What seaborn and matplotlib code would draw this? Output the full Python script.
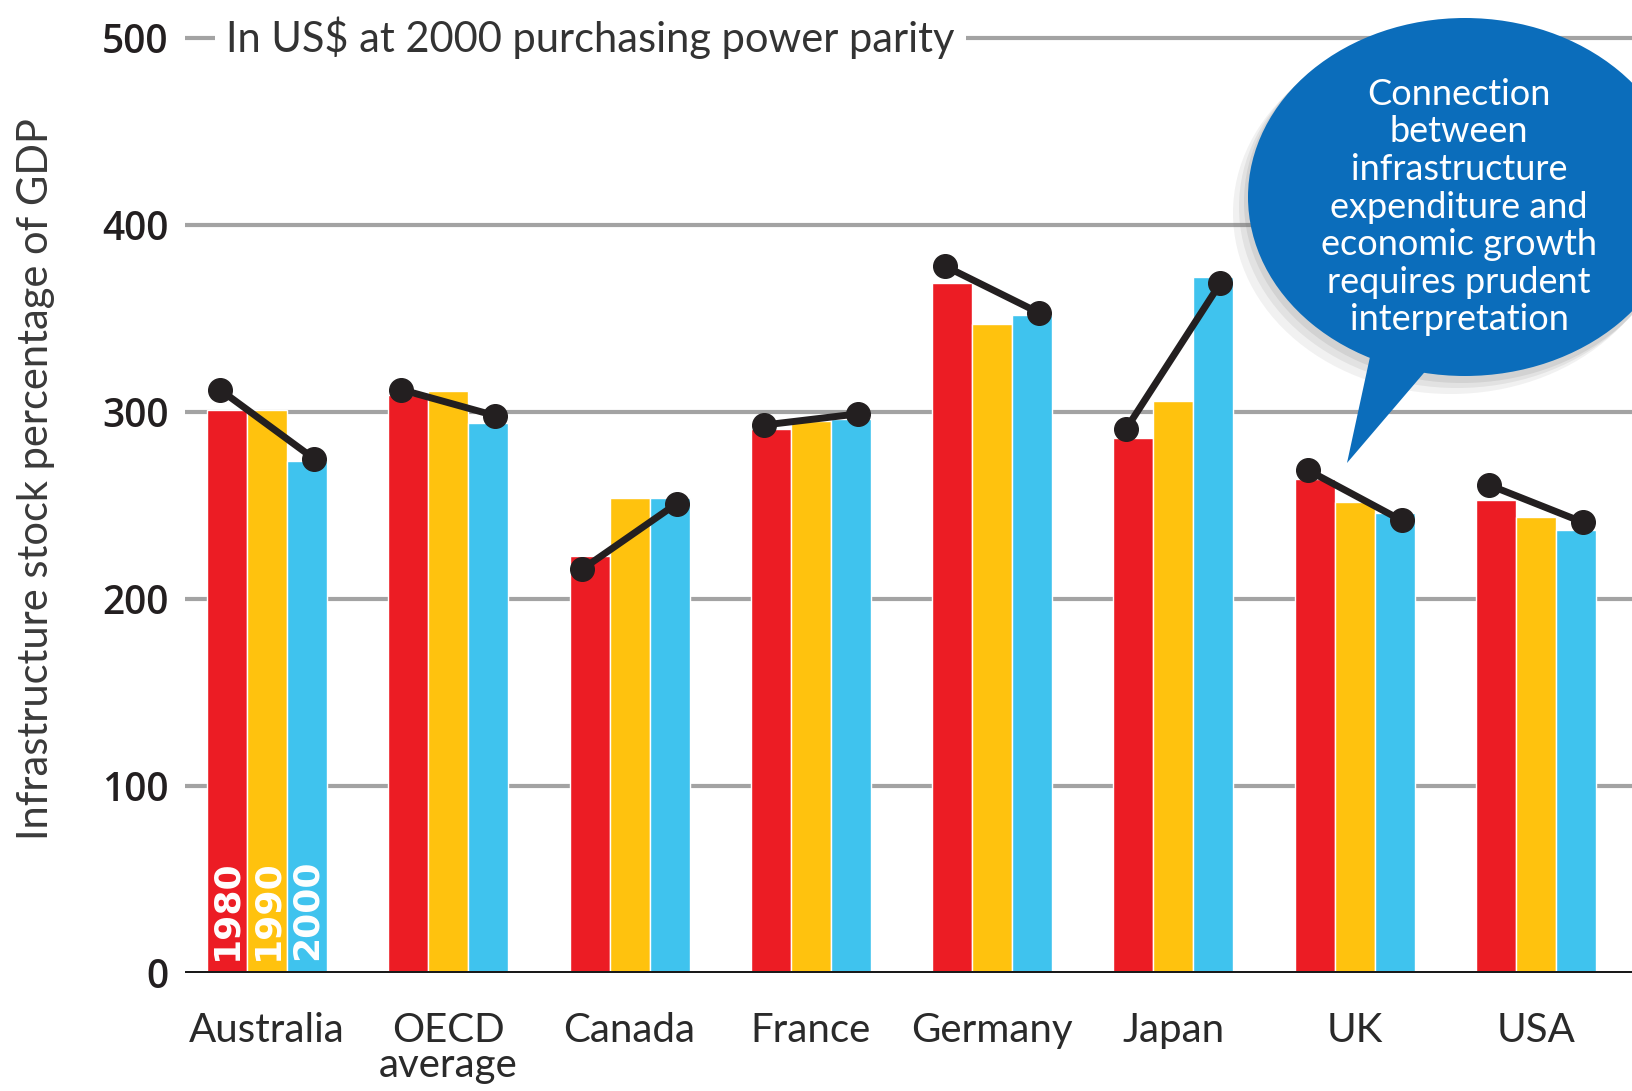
"""
Infrastructure stock as % of GDP, 1980 / 1990 / 2000 - grouped bars with trend dots
"""

import matplotlib
matplotlib.use('Agg')
import matplotlib.pyplot as plt
from matplotlib.patches import Ellipse, Polygon
import seaborn as sns
import pandas as pd

# data
countries = ["Australia", "OECD\naverage", "Canada", "France", "Germany", "Japan", "UK", "USA"]
years = ["1980", "1990", "2000"]
v1980 = [301, 309, 223, 291, 369, 286, 264, 253]
v1990 = [301, 311, 254, 295, 347, 306, 252, 244]
v2000 = [274, 294, 254, 296, 352, 372, 246, 237]
trend_start = [312, 312, 216, 293, 378, 291, 269, 261]
trend_end = [275, 298, 251, 299, 353, 369, 242, 241]
y_ticks = [0, 100, 200, 300, 400, 500]

colors = ['#ec1c24', '#ffc20e', '#3fc3ee']

df = pd.DataFrame({
    'country': countries * 3,
    'year': [y for y in years for _ in countries],
    'value': v1980 + v1990 + v2000,
})

sns.set_theme(style='white')
plt.rcParams['font.family'] = ['Lato', 'DejaVu Sans']

W, H = 1632, 1091
fig = plt.figure(figsize=(W / 100, H / 100), dpi=100)
ax = fig.add_axes([185 / W, 1 - 973 / H, 1 - 185 / W, (973 - 19.3) / H])

# gridlines
for t in y_ticks[1:]:
    ax.axhline(t, color='#a3a3a3', lw=3, zorder=1)
ax.axhline(0, color='#1a1a1a', lw=3.6, zorder=5)

sns.barplot(data=df, x='country', y='value', hue='year', palette=colors,
            width=0.662, saturation=1, legend=False, ax=ax, zorder=2)

# trend lines with dots
off = 0.26
for i in range(len(countries)):
    ax.plot([i - off, i + off], [trend_start[i], trend_end[i]], color='#231f20',
            lw=5, marker='o', ms=17, zorder=6, solid_capstyle='round')

# year labels inside the first group
bw = 0.662 / 3
for k, yr in enumerate(years):
    ax.text(-0.662 / 2 + bw * (k + 0.5), 7, yr, rotation=90, ha='center', va='bottom',
            color='white', fontsize=26, fontweight='bold', family='DejaVu Sans', zorder=4)

ax.set_xlim(-0.452, 7.53)
ax.set_ylim(0, 510)
ax.set_yticks(y_ticks)
ax.set_yticklabels([str(t) for t in y_ticks], fontsize=28, fontweight='semibold',
                   color='#231f20', family='Open Sans')
ax.tick_params(axis='y', length=0, pad=12)
ax.tick_params(axis='x', length=0, pad=28)
for lbl in ax.get_xticklabels():
    lbl.set_fontsize(29)
    lbl.set_color('#2a2a2a')
    lbl.set_linespacing(0.95)
ax.set_xlabel('')
ax.set_ylabel('Infrastructure stock percentage of GDP', fontsize=30, color='#3a3a3a')
ax.yaxis.set_label_coords(-0.09, 0.518)
sns.despine(ax=ax, left=True, bottom=True)

# subtitle sitting on the 500 gridline
fig.text(226 / W, 1 - 38 / H, 'In US$ at 2000 purchasing power parity', fontsize=30,
         color='#333333', va='center', ha='left', zorder=10,
         bbox=dict(facecolor='white', edgecolor='none', pad=8))

# speech bubble
for dx, dy, a in [(-14, 16, 0.10), (-8, 10, 0.12), (-3, 5, 0.15)]:
    fig.patches.append(Ellipse(((1465 + dx) / W, 1 - (197 + dy) / H), 436 / W, 362 / H,
                               transform=fig.transFigure, facecolor='#777777',
                               edgecolor='none', alpha=a, zorder=11))
fig.patches.append(Polygon([(1378 / W, 1 - 320 / H), (1452 / W, 1 - 340 / H),
                            (1347 / W, 1 - 463 / H)], closed=True,
                           transform=fig.transFigure, facecolor='#0b6dbb',
                           edgecolor='none', zorder=12))
fig.patches.append(Ellipse((1465 / W, 1 - 197 / H), 434 / W, 358 / H,
                           transform=fig.transFigure, facecolor='#0b6dbb',
                           edgecolor='none', zorder=12))
fig.text(1459 / W, 1 - 207 / H,
         'Connection\nbetween\ninfrastructure\nexpenditure and\neconomic growth\n'
         'requires prudent\ninterpretation',
         fontsize=26, color='white', ha='center', va='center', linespacing=1.17,
         zorder=13)

fig.savefig('out.png', dpi=100, facecolor='white')
